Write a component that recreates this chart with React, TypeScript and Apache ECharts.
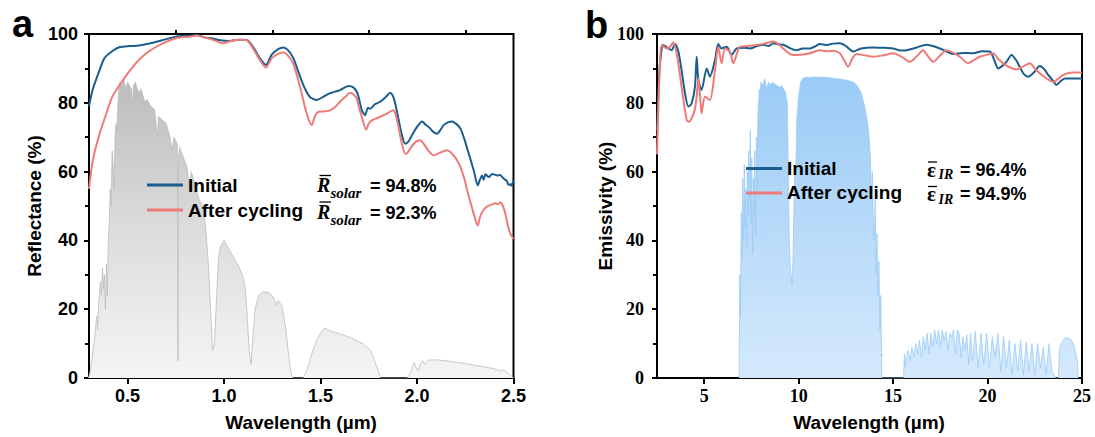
import React, { useEffect, useRef } from 'react';
import * as echarts from 'echarts';

// ---------- data ----------
const seriesNames = ['Initial', 'After cycling'];
const xTicksA = [0.5, 1.0, 1.5, 2.0, 2.5];
const xMinorA = [0.75, 1.25, 1.75, 2.25];
const xTicksB = [5, 10, 15, 20, 25];
const xMinorB = [7.5, 12.5, 17.5, 22.5];
const meanA = ['94.8%', '92.3%'];
const meanB = ['96.4%', '94.9%'];

// AM 1.5 solar spectrum (scaled, %)
const solarSpectrum: [number, number][] = [
  [0.295, 0], [0.3, 0.5], [0.31, 3], [0.32, 8], [0.33, 12], [0.34, 18], [0.345, 14], [0.35, 22],
  [0.36, 28], [0.365, 24], [0.37, 32], [0.375, 26], [0.38, 30], [0.385, 20], [0.39, 33], [0.395, 24],
  [0.4, 40], [0.405, 45], [0.41, 55], [0.415, 50], [0.42, 66], [0.425, 62], [0.43, 55], [0.435, 70],
  [0.44, 74], [0.445, 72], [0.45, 80], [0.455, 84], [0.46, 86], [0.47, 85], [0.48, 87], [0.49, 84],
  [0.5, 86], [0.51, 85], [0.52, 84], [0.525, 79], [0.53, 85], [0.54, 86], [0.55, 84], [0.56, 83],
  [0.57, 84], [0.58, 82], [0.59, 80], [0.6, 81], [0.62, 79], [0.64, 78], [0.655, 70], [0.66, 76],
  [0.68, 75], [0.7, 74], [0.72, 70], [0.73, 66], [0.74, 70], [0.758, 68], [0.761, 5], [0.764, 64],
  [0.77, 67], [0.79, 64], [0.81, 61], [0.82, 55], [0.83, 60], [0.85, 56], [0.87, 52], [0.89, 50],
  [0.9, 46], [0.91, 40], [0.92, 32], [0.93, 20], [0.94, 8], [0.95, 10], [0.96, 22], [0.97, 34],
  [0.98, 38], [1.0, 40], [1.02, 38], [1.04, 36], [1.06, 34], [1.08, 32], [1.1, 29], [1.11, 26],
  [1.12, 18], [1.13, 8], [1.14, 4], [1.15, 12], [1.16, 20], [1.18, 24], [1.2, 25], [1.22, 25],
  [1.24, 24.5], [1.26, 23], [1.27, 21], [1.28, 22.5], [1.3, 21], [1.31, 18], [1.32, 14], [1.33, 9],
  [1.34, 4], [1.35, 0.5], [1.36, 0], [1.41, 0], [1.42, 1], [1.44, 4], [1.46, 8], [1.48, 11],
  [1.5, 13], [1.52, 14.5], [1.54, 14], [1.56, 13.5], [1.58, 13.2], [1.6, 12.8], [1.62, 12.5], [1.64, 12],
  [1.66, 11.8], [1.68, 11], [1.7, 10.5], [1.72, 10], [1.74, 9], [1.76, 8], [1.78, 5], [1.8, 2],
  [1.81, 0], [1.95, 0], [1.97, 2], [1.985, 4.5], [1.995, 3], [2.005, 2], [2.02, 4.5], [2.03, 5],
  [2.04, 4], [2.06, 5.2], [2.1, 5.3], [2.15, 5], [2.2, 4.6], [2.25, 4.2], [2.3, 3.7], [2.35, 3.2],
  [2.4, 2.7], [2.43, 2], [2.45, 2.3], [2.47, 1.5], [2.49, 0.5], [2.5, 0],
];

const reflInitial: [number, number][] = [
  [0.3, 79], [0.32, 84], [0.355, 89.5], [0.38, 93], [0.42, 95], [0.46, 96.2], [0.51, 96.5], [0.55, 96.6],
  [0.6, 97.1], [0.64, 97.6], [0.68, 98.2], [0.72, 98.8], [0.77, 99.4], [0.82, 99.5], [0.86, 99.7], [0.9, 99],
  [0.94, 98.7], [0.98, 98.2], [1.03, 98], [1.08, 98.3], [1.12, 98.2], [1.15, 96.3], [1.186, 92.9], [1.217, 91],
  [1.246, 93.9], [1.28, 95.6], [1.307, 96.1], [1.33, 95.4], [1.359, 93], [1.394, 87.6], [1.42, 84], [1.445, 81.7],
  [1.48, 80.8], [1.515, 81.8], [1.55, 82.8], [1.601, 83.7], [1.645, 84.9], [1.67, 84.5], [1.688, 83.2], [1.7, 81],
  [1.714, 77.8], [1.731, 76.4], [1.745, 78.5], [1.757, 78.3], [1.78, 79.5], [1.809, 80.3], [1.84, 81.8], [1.861, 82.9],
  [1.875, 82], [1.887, 79.8], [1.905, 75], [1.922, 70.6], [1.939, 68.1], [1.955, 68.7], [1.974, 70.6], [2.0, 73],
  [2.026, 74.6], [2.045, 73.6], [2.06, 73], [2.085, 71.5], [2.104, 71], [2.12, 72], [2.138, 73.5], [2.16, 74.3],
  [2.182, 74.6], [2.205, 73.8], [2.225, 72.5], [2.245, 69.5], [2.26, 66.7], [2.28, 63], [2.294, 60.3], [2.315, 56],
  [2.325, 57.5], [2.337, 58.9], [2.345, 57.6], [2.355, 59.2], [2.372, 58.4], [2.39, 59.3], [2.415, 58.9], [2.43, 59],
  [2.45, 57.9], [2.465, 57.3], [2.475, 56.1], [2.484, 56.3], [2.49, 55.9], [2.5, 57.6],
];

const reflAfter: [number, number][] = [
  [0.3, 55], [0.32, 63.3], [0.355, 71], [0.39, 76.9], [0.42, 81.7], [0.476, 86.6], [0.528, 90.5], [0.56, 92.5],
  [0.597, 94.4], [0.64, 96], [0.683, 97.3], [0.73, 98.4], [0.77, 99], [0.82, 99.2], [0.857, 99.6], [0.9, 99],
  [0.943, 98.3], [0.995, 97.3], [1.047, 98.2], [1.08, 98.3], [1.117, 98.2], [1.15, 95.8], [1.186, 92.4], [1.217, 90.2],
  [1.246, 92.9], [1.28, 94.2], [1.307, 94.6], [1.33, 93.8], [1.359, 91.3], [1.394, 84.6], [1.428, 76.9], [1.454, 73.5],
  [1.47, 76], [1.489, 77.4], [1.52, 77.5], [1.55, 77.8], [1.58, 79], [1.601, 80.3], [1.63, 81.8], [1.653, 82.9],
  [1.67, 82.5], [1.688, 81.2], [1.7, 78.5], [1.714, 75.9], [1.736, 72.2], [1.75, 74], [1.766, 74.9], [1.79, 75.5],
  [1.809, 75.9], [1.84, 76.8], [1.878, 77.8], [1.89, 76.5], [1.904, 73], [1.92, 68.5], [1.939, 65.2], [1.95, 65.4],
  [1.965, 66.7], [1.99, 68.5], [2.017, 69.1], [2.034, 68.1], [2.06, 66], [2.086, 64.7], [2.12, 65.5], [2.156, 66.2],
  [2.182, 65.2], [2.205, 63.5], [2.225, 61.3], [2.245, 58], [2.26, 54.5], [2.28, 50.5], [2.294, 47.7], [2.315, 44.3],
  [2.325, 46.5], [2.337, 48.2], [2.355, 49.5], [2.372, 50.1], [2.39, 50.5], [2.406, 50.8], [2.42, 50.5], [2.432, 51.1],
  [2.445, 50], [2.458, 47.7], [2.47, 44.5], [2.484, 41.9], [2.5, 40.4],
];

// Atmospheric transparency (%)
const atmTransparency: [number, number][] = [
  [6.85, 0], [6.88, 30], [6.92, 18], [6.96, 48], [7.0, 35], [7.04, 58], [7.08, 40], [7.12, 62],
  [7.16, 44], [7.2, 55], [7.24, 38], [7.28, 60], [7.32, 48], [7.36, 66], [7.4, 52], [7.44, 72],
  [7.48, 45], [7.52, 64], [7.56, 36], [7.6, 58], [7.64, 48], [7.68, 66], [7.72, 42], [7.76, 70],
  [7.8, 55], [7.84, 76], [7.88, 80], [7.92, 84], [7.96, 82], [8.0, 86], [8.1, 85], [8.2, 87],
  [8.3, 84], [8.4, 86], [8.5, 85], [8.6, 86], [8.7, 85.5], [8.85, 85], [9.0, 84.5], [9.1, 85],
  [9.2, 84], [9.3, 83], [9.4, 80], [9.45, 60], [9.5, 40], [9.55, 33], [9.6, 30], [9.65, 27],
  [9.7, 35], [9.75, 50], [9.8, 62], [9.85, 60], [9.9, 75], [10.0, 82], [10.1, 86], [10.2, 87],
  [10.4, 87.5], [10.6, 87.3], [10.8, 87.5], [11.0, 87.4], [11.3, 87.5], [11.6, 87.3], [12.0, 87], [12.3, 86.8],
  [12.6, 86.5], [12.9, 86], [13.1, 85], [13.3, 83], [13.45, 80], [13.6, 76], [13.7, 72], [13.8, 64],
  [13.85, 52], [13.9, 60], [13.95, 46], [14.0, 40], [14.05, 52], [14.1, 30], [14.15, 42], [14.2, 24],
  [14.25, 34], [14.3, 14], [14.35, 24], [14.4, 0],
  [15.55, 0], [15.6, 7], [15.65, 3], [15.7, 6], [15.8, 8], [15.9, 5], [16.0, 9], [16.1, 6],
  [16.2, 10], [16.3, 7], [16.4, 11], [16.5, 6], [16.6, 12], [16.7, 8], [16.8, 13], [16.9, 7],
  [17.0, 13], [17.1, 9], [17.2, 14], [17.3, 10], [17.4, 14], [17.5, 9], [17.6, 14], [17.7, 11],
  [17.8, 13.5], [17.9, 8], [18.0, 13], [18.1, 12], [18.2, 14], [18.3, 7], [18.4, 14], [18.5, 13],
  [18.6, 6], [18.7, 12], [18.8, 8], [18.9, 12.5], [19.0, 4], [19.1, 13], [19.2, 5], [19.35, 13.5],
  [19.5, 3], [19.65, 13], [19.8, 4], [19.95, 13], [20.1, 3], [20.25, 12], [20.4, 6], [20.55, 13],
  [20.7, 2], [20.85, 12], [21.0, 3], [21.15, 11], [21.3, 1], [21.45, 10], [21.6, 2], [21.75, 11],
  [21.9, 1], [22.05, 10.5], [22.2, 2], [22.35, 10], [22.5, 1], [22.65, 10], [22.8, 3], [22.95, 9],
  [23.1, 1], [23.25, 10], [23.4, 2], [23.5, 1], [23.6, 0], [23.75, 0], [23.8, 8], [23.9, 10],
  [24.0, 11], [24.15, 11.8], [24.3, 11.5], [24.45, 11], [24.6, 9], [24.75, 5], [24.8, 0],
];

const emisInitial: [number, number][] = [
  [2.5, 72], [2.6, 86], [2.66, 91.5], [2.83, 96.8], [3.1, 95.8], [3.28, 95.3], [3.45, 97.1], [3.63, 94.9],
  [3.8, 89.5], [3.98, 82.8], [4.16, 78.9], [4.33, 79.8], [4.51, 84.7], [4.6, 93.4], [4.69, 86.6], [4.86, 83.7],
  [5.13, 90], [5.3, 87.6], [5.57, 92.4], [5.74, 97.1], [5.92, 95.8], [6.19, 96.3], [6.45, 93.9], [6.72, 95.8],
  [7.1, 96], [7.42, 95.8], [7.8, 96.5], [8.12, 96.9], [8.4, 96.5], [8.65, 97.3], [8.9, 97], [9.18, 96.9],
  [9.5, 96], [9.89, 95.3], [10.2, 95.8], [10.6, 95.8], [10.9, 96.5], [11.12, 97.1], [11.5, 96.8], [11.8, 97.2],
  [12.18, 97.3], [12.5, 96.5], [12.89, 94.9], [13.3, 95.8], [13.94, 96.1], [14.4, 96], [15.0, 95.8], [15.4, 95.2],
  [15.71, 95.3], [16.2, 96], [16.77, 96.9], [17.1, 96.5], [17.47, 95.8], [17.8, 95], [18.18, 94.2], [18.7, 94.5],
  [19.24, 94.4], [19.7, 95], [20.12, 94.9], [20.35, 92.5], [20.56, 90], [20.8, 90.8], [21.0, 91.9], [21.27, 93.9],
  [21.5, 92.5], [21.7, 90.5], [21.9, 88.5], [22.15, 87.6], [22.45, 88.8], [22.76, 90.7], [23.0, 89.8], [23.21, 88.1],
  [23.45, 86.5], [23.65, 85.2], [23.85, 86.2], [24.09, 87.1], [24.5, 87.1], [25, 87.1],
];

const emisAfter: [number, number][] = [
  [2.5, 65], [2.58, 80], [2.66, 92], [2.75, 96.8], [3.01, 95.8], [3.19, 96.3], [3.36, 97.5], [3.54, 94.4],
  [3.8, 84.7], [4.07, 75], [4.2, 74.5], [4.33, 75.5], [4.5, 78], [4.6, 81.8], [4.69, 87.1], [4.78, 82],
  [4.86, 76.9], [5.04, 81.8], [5.3, 80.8], [5.57, 89.5], [5.74, 96.3], [5.92, 91.5], [6.1, 95.8], [6.36, 94.9],
  [6.54, 91.5], [6.89, 96.3], [7.3, 96.5], [7.77, 96.8], [8.2, 97.2], [8.65, 97.8], [8.9, 97.2], [9.18, 95.8],
  [9.45, 94.5], [9.71, 93.9], [10.1, 94], [10.6, 94.4], [11.12, 95.3], [11.5, 95], [11.83, 95.1], [12.18, 94.4],
  [12.4, 92.5], [12.62, 90.5], [12.85, 93], [13.07, 94.2], [13.5, 93.8], [13.94, 93.4], [14.5, 93.8], [15.0, 94.4],
  [15.5, 93.2], [15.89, 91.9], [16.25, 93.5], [16.59, 95.3], [16.85, 93.5], [17.12, 91.9], [17.5, 93.8], [17.83, 95.3],
  [18.2, 94.5], [18.53, 93.4], [18.97, 91.5], [19.3, 92.5], [19.59, 93.4], [20.0, 94], [20.29, 94.4], [20.6, 92.5],
  [21.0, 90.8], [21.53, 89.7], [21.9, 90.6], [22.24, 91.5], [22.5, 90], [22.76, 88.6], [23.1, 87.2], [23.47, 86.1],
  [23.75, 87], [24.0, 88.1], [24.53, 88.8], [25, 88.8],
];

// ---------- styles ----------
const BLUE = '#1b5d8c';
const RED = '#ee7b78';
const SANS = 'Liberation Sans';
const SERIF = 'Liberation Serif';

function meanLabel(x: number, y: number, kind: 'R' | 'e', value: string): any {
  const isR = kind === 'R';
  return {
    type: 'group',
    x,
    y,
    children: [
      {
        type: 'text',
        x: 0,
        y: isR ? 0 : 1,
        style: {
          text: isR ? 'R' : 'ε',
          fontFamily: SERIF,
          fontStyle: isR ? 'italic' : 'normal',
          fontWeight: 'bold',
          fontSize: isR ? 20 : 21,
          fill: '#000',
          verticalAlign: 'middle',
        },
      },
      {
        type: 'line',
        shape: isR ? { x1: 2.5, y1: -9.5, x2: 14, y2: -9.5 } : { x1: 1, y1: -6.5, x2: 10, y2: -6.5 },
        style: { stroke: '#000', lineWidth: 1.3 },
      },
      {
        type: 'text',
        x: isR ? 13.5 : 11.5,
        y: isR ? 8 : 6,
        style: {
          text: isR ? 'solar' : 'IR',
          fontFamily: SERIF,
          fontStyle: 'italic',
          fontWeight: 'bold',
          fontSize: isR ? 15 : 14,
          fill: '#000',
          verticalAlign: 'middle',
        },
      },
      {
        type: 'text',
        x: isR ? 53 : 33,
        y: 1,
        style: {
          text: '= ' + value,
          fontFamily: SANS,
          fontWeight: 'bold',
          fontSize: 18,
          fill: '#000',
          verticalAlign: 'middle',
        },
      },
    ],
  };
}

function xMain(gridIndex: number, min: number, max: number, ticks: number[], serif: boolean, fmt: (v: number) => string): any {
  return {
    type: 'value',
    gridIndex,
    min,
    max,
    axisLine: { show: true, lineStyle: { color: '#000', width: 2 } },
    axisTick: { show: true, customValues: ticks, length: 6, lineStyle: { color: '#000', width: 2 } },
    axisLabel: {
      customValues: ticks,
      formatter: fmt,
      margin: 9,
      color: '#000',
      fontSize: 18,
      fontWeight: 'bold',
      fontFamily: serif ? SERIF : SANS,
    },
    splitLine: { show: false },
  };
}

function xMinor(gridIndex: number, min: number, max: number, ticks: number[]): any {
  return {
    type: 'value',
    gridIndex,
    min,
    max,
    axisLine: { show: false },
    axisTick: { show: true, customValues: ticks, length: 4, lineStyle: { color: '#000', width: 2 } },
    axisLabel: { show: false },
    splitLine: { show: false },
  };
}

function yMain(gridIndex: number, serif: boolean): any {
  return {
    type: 'value',
    gridIndex,
    min: 0,
    max: 100,
    interval: 20,
    axisLine: { show: true, lineStyle: { color: '#000', width: 2 } },
    axisTick: { show: true, length: 5, lineStyle: { color: '#000', width: 2 } },
    minorTick: { show: true, splitNumber: 2, length: 4, lineStyle: { color: '#000', width: 2 } },
    axisLabel: {
      margin: serif ? 13 : 11,
      color: '#000',
      fontSize: 18,
      fontWeight: 'bold',
      fontFamily: serif ? SERIF : SANS,
    },
    splitLine: { show: false },
    minorSplitLine: { show: false },
  };
}

function lineSeries(name: string, color: string, x: number, y: number, data: [number, number][]): any {
  return {
    name,
    type: 'line',
    xAxisIndex: x,
    yAxisIndex: y,
    data,
    showSymbol: false,
    smooth: 0.25,
    color,
    lineStyle: { color, width: 2 },
    z: 5,
  };
}

function text(x: number, y: number, t: string, size: number, color: string, extra: any = {}): any {
  return {
    type: 'text',
    x,
    y,
    ...extra,
    style: {
      text: t,
      fontFamily: SANS,
      fontWeight: 'bold',
      fontSize: size,
      fill: color,
      verticalAlign: 'middle',
      align: 'left',
      ...(extra.style || {}),
    },
  };
}

export default function App() {
  const ref = useRef<HTMLDivElement>(null);
  useEffect(() => {
    if (!ref.current) return;
    const chart = echarts.init(ref.current, undefined, { renderer: 'svg' });
    const legendBase = {
      orient: 'vertical',
      padding: 0,
      itemWidth: 36,
      itemHeight: 3,
      icon: 'rect',
      selectedMode: false,
      data: seriesNames,
      textStyle: { fontSize: 19, fontWeight: 'bold', fontFamily: SANS, color: '#000', lineHeight: 20 },
    };
    const option: any = {
      animation: false,
      backgroundColor: '#fff',
      grid: [
        { left: 89, top: 34, width: 424.5, height: 344, show: true, borderColor: '#000', borderWidth: 2, backgroundColor: 'transparent' },
        { left: 657, top: 34, width: 425, height: 344, show: true, borderColor: '#000', borderWidth: 2, backgroundColor: 'transparent' },
      ],
      xAxis: [
        xMain(0, 0.3, 2.5, xTicksA, false, (v: number) => v.toFixed(1)),
        xMinor(0, 0.3, 2.5, xMinorA),
        xMain(1, 2.5, 25, xTicksB, true, (v: number) => String(v)),
        xMinor(1, 2.5, 25, xMinorB),
      ],
      yAxis: [yMain(0, false), yMain(1, true)],
      legend: [
        { ...legendBase, left: 147, top: 175, itemGap: 5 },
        { ...legendBase, left: 746, top: 158.5, itemGap: 4.4 },
      ],
      series: [
        {
          name: 'AM 1.5 solar spectrum',
          type: 'line',
          xAxisIndex: 0,
          yAxisIndex: 0,
          data: solarSpectrum,
          showSymbol: false,
          lineStyle: { color: '#bdbdbd', width: 0.8 },
          areaStyle: {
            color: new echarts.graphic.LinearGradient(0, 0, 0, 1, [
              { offset: 0, color: '#bcbcbc' },
              { offset: 0.5, color: '#dcdcdc' },
              { offset: 1, color: '#f5f5f5' },
            ]),
            opacity: 1,
          },
          z: 1,
        },
        lineSeries(seriesNames[0], BLUE, 0, 0, reflInitial),
        lineSeries(seriesNames[1], RED, 0, 0, reflAfter),
        {
          name: 'Atmospheric Transparency',
          type: 'line',
          xAxisIndex: 2,
          yAxisIndex: 1,
          data: atmTransparency,
          showSymbol: false,
          lineStyle: { color: '#9ccbf5', width: 0.8 },
          areaStyle: {
            color: new echarts.graphic.LinearGradient(0, 0, 0, 1, [
              { offset: 0, color: '#9acbf6' },
              { offset: 1, color: '#d5e9fc' },
            ]),
            opacity: 1,
          },
          z: 1,
        },
        lineSeries(seriesNames[0], BLUE, 2, 1, emisInitial),
        lineSeries(seriesNames[1], RED, 2, 1, emisAfter),
      ],
      graphic: [
        text(12, 24, 'a', 38, '#000'),
        text(585, 25, 'b', 38, '#000'),
        text(34, 206, 'Reflectance (%)', 19, '#000', { rotation: Math.PI / 2, style: { align: 'center' } }),
        text(605, 206, 'Emissivity (%)', 19, '#000', { rotation: Math.PI / 2, style: { align: 'center' } }),
        text(301, 422, 'Wavelength (µm)', 19, '#000', { style: { align: 'center' } }),
        text(869, 422, 'Wavelength (µm)', 19, '#000', { style: { align: 'center' } }),
        text(107, 334, 'AM 1.5', 19, '#9e9e9e'),
        text(107, 357, 'solar spectrum', 19, '#9e9e9e'),
        text(749, 332, 'Atmospheric', 20.5, '#1d4f7e'),
        text(749, 357, 'Transparency', 20.5, '#1d4f7e'),
        meanLabel(317, 185, 'R', meanA[0]),
        meanLabel(317, 211.5, 'R', meanA[1]),
        meanLabel(927, 168.5, 'e', meanB[0]),
        meanLabel(927, 193, 'e', meanB[1]),
      ],
    };
    chart.setOption(option);
    return () => chart.dispose();
  }, []);
  return <div ref={ref} style={{ position: 'fixed', left: 0, top: 0, width: 1095, height: 437 }} />;
}
